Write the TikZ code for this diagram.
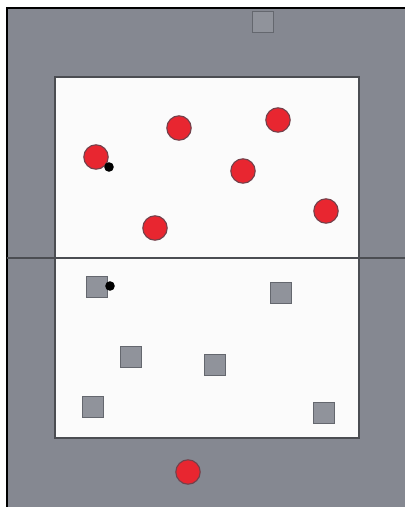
\documentclass[tikz,border=0pt]{standalone}
\usepackage{tikz}
\usetikzlibrary{
  positioning
}
\definecolor{fieldgray}{RGB}{133,136,145}
\definecolor{fieldedge}{RGB}{75,77,82}
\definecolor{boxgray}{RGB}{144,147,155}
\definecolor{boxedge}{RGB}{100,103,110}
\definecolor{ballred}{RGB}{232,38,48}
\definecolor{balledge}{RGB}{115,65,75}
\definecolor{roomwhite}{RGB}{251,251,251}
\tikzset{
  ballNode/.style={
    circle,
    draw=balledge,
    fill=ballred,
    line width=0.8pt,
    minimum size=0.61cm,
    inner sep=0pt
  },
  boxNode/.style={
    rectangle,
    draw=boxedge,
    fill=boxgray,
    line width=1pt,
    minimum size=0.53cm,
    inner sep=0pt
  },
  markNode/.style={
    circle,
    fill=black,
    minimum size=0.24cm,
    inner sep=0pt
  }
}

\begin{document}
\begin{tikzpicture}[x=0.025cm, y=-0.025cm]
  \useasboundingbox (0,0) rectangle (405,507);
  % outer field
  \fill[fieldgray] (7,8) rectangle (405,507);
  \draw[black, line width=1.4pt] (7,507) -- (7,8) -- (405,8);
  % inner room
  \draw[fieldedge, fill=roomwhite, line width=1.2pt] (55,77) rectangle (359,438);
  \draw[fieldedge, line width=1.2pt] (7,258) -- (405,258);

  % red balls
  \foreach \x/\y [count=\i] in {96/157, 179/128, 278/120, 243/171, 155/228, 326/211, 188/472}
    \node[ballNode] (ball\i) at (\x,\y) {};

  % gray boxes
  \foreach \x/\y [count=\i] in {263/22, 97/287, 281/293, 131/357, 215/365, 93/407, 324/413}
    \node[boxNode] (box\i) at (\x,\y) {};

  % black marks
  \node[markNode] (markA) at (109,167) {};
  \node[markNode] (markB) at (110,286) {};
\end{tikzpicture}
\end{document}
